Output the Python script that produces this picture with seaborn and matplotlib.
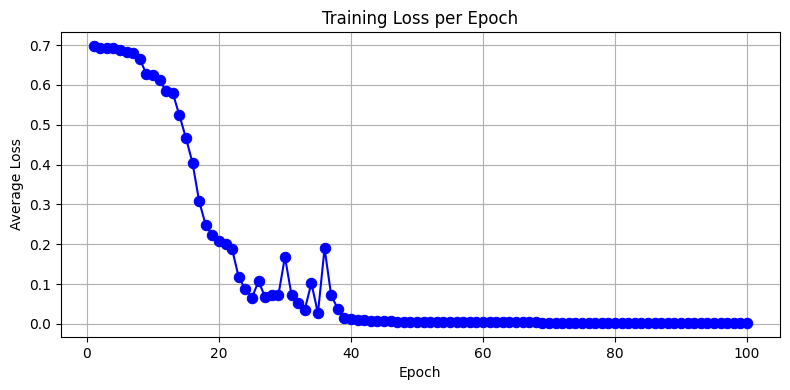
import matplotlib
matplotlib.use("Agg")
import matplotlib.pyplot as plt
import seaborn as sns
import pandas as pd

epochs = list(range(1, 101))
loss_first = [0.698, 0.692, 0.692, 0.692, 0.688, 0.683, 0.680, 0.665, 0.628, 0.625,
              0.612, 0.585, 0.580, 0.524, 0.467, 0.404, 0.308, 0.248, 0.222, 0.207,
              0.200, 0.187, 0.117, 0.087, 0.066, 0.107, 0.067, 0.072, 0.072, 0.168,
              0.072, 0.052, 0.036, 0.102, 0.027, 0.190, 0.072, 0.038, 0.014, 0.012,
              0.011, 0.009, 0.008, 0.008, 0.007, 0.008, 0.006, 0.006, 0.005, 0.005]
loss_second = [0.004, 0.004, 0.004, 0.004, 0.004, 0.004, 0.004, 0.004, 0.004, 0.004,
               0.004, 0.004, 0.004, 0.004, 0.004, 0.004, 0.004, 0.004, 0.003, 0.003,
               0.002, 0.002, 0.002, 0.002, 0.002, 0.002, 0.002, 0.002, 0.002, 0.002,
               0.002, 0.002, 0.002, 0.002, 0.002, 0.002, 0.002, 0.002, 0.002, 0.002,
               0.002, 0.002, 0.002, 0.002, 0.002, 0.002, 0.002, 0.002, 0.002, 0.002]
loss = loss_first + loss_second

df = pd.DataFrame({"Epoch": epochs, "Average Loss": loss})

fig, ax = plt.subplots(figsize=(7.9, 3.9), dpi=100)
sns.lineplot(data=df, x="Epoch", y="Average Loss", marker="o", color="blue",
             markeredgecolor="blue", markersize=7.5, ax=ax)
ax.set_title("Training Loss per Epoch")
ax.set_xlabel("Epoch")
ax.set_ylabel("Average Loss")
ax.grid(True)
fig.subplots_adjust(left=0.077, right=0.987, top=0.918, bottom=0.136)
fig.savefig("out.png", dpi=100)
